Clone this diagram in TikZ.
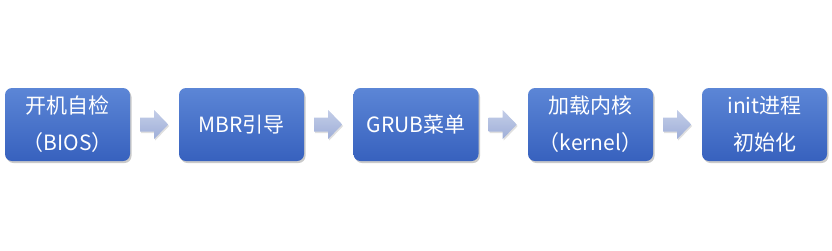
\documentclass[tikz,border=0pt]{standalone}
\usepackage{fontspec}
\setmainfont{Noto Sans CJK SC}
\usetikzlibrary{shadows,calc}
\definecolor{boxtop}{HTML}{5C86D6}
\definecolor{boxbot}{HTML}{3761BE}
\definecolor{arrtop}{HTML}{C3CDE8}
\definecolor{arrbot}{HTML}{9FAFD8}
\begin{document}
\begin{tikzpicture}[x=1pt,y=-1pt,
  stagebox/.style={draw=none,rounded corners=7pt,minimum width=125pt,minimum height=73pt,
    top color=boxtop,bottom color=boxbot,text=white,align=center,font=\fontsize{21pt}{37pt}\selectfont,
    inner sep=0pt,
    drop shadow={shadow xshift=1.5pt,shadow yshift=-2pt,opacity=0.35,fill=black!60}},
  flowarrow/.style={top color=arrtop,bottom color=arrbot,draw=none,
    drop shadow={shadow xshift=1pt,shadow yshift=-1.5pt,opacity=0.25}}]
\useasboundingbox (0,0) rectangle (832,250);
\node[stagebox] (b1) at (67.5,124.5) {开机自检\\（BIOS）};
\node[stagebox] (b2) at (241.5,124.5) {MBR引导};
\node[stagebox] (b3) at (416,124.5) {GRUB菜单};
\node[stagebox] (b4) at (590.5,124.5) {加载内核\\（kernel）};
\node[stagebox] (b5) at (764.5,124.5) {init进程\\初始化};
\foreach \a/\b in {b1/b2,b2/b3,b3/b4,b4/b5}{
  \path[flowarrow] ($(\a.east)+(10,-7)$) -- ++(14,0) -- ++(0,-7.5) -- ++(14,14.5)
     -- ++(-14,14.5) -- ++(0,-7.5) -- ++(-14,0) -- cycle;
}
\end{tikzpicture}
\end{document}
